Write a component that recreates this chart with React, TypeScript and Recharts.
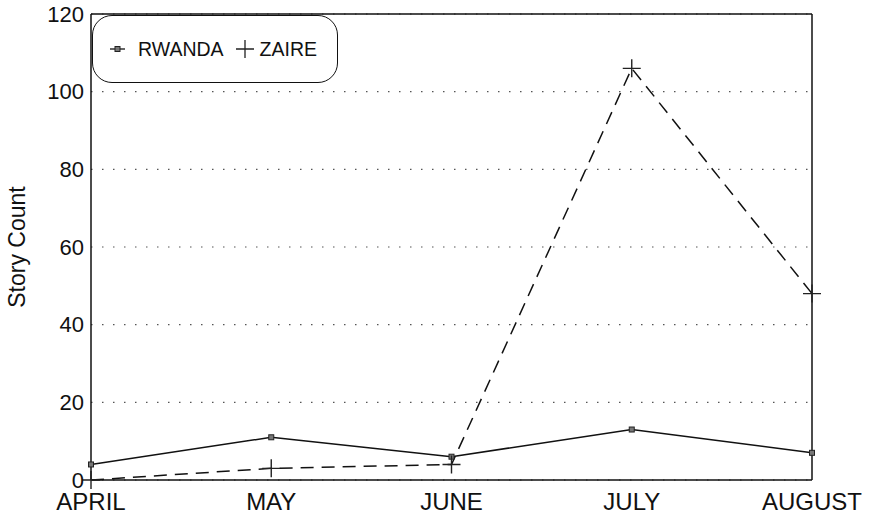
import React from 'react';
import {
  LineChart,
  Line,
  XAxis,
  YAxis,
  CartesianGrid,
  ReferenceLine,
  Legend,
} from 'recharts';

const months = ['APRIL', 'MAY', 'JUNE', 'JULY', 'AUGUST'];
const rwanda = [4, 11, 6, 13, 7];
const zaire = [0, 3, 4, 106, 48];
const yTicks = [0, 20, 40, 60, 80, 100, 120];

const data = months.map((m, i) => ({ month: m, RWANDA: rwanda[i], ZAIRE: zaire[i] }));

const FONT = '"Liberation Sans", Arial, Helvetica, sans-serif';
const INK = '#111';

const SquareDot = (props: any) => {
  const { cx, cy } = props;
  if (cx == null || cy == null) return null;
  return <rect x={cx - 2.5} y={cy - 2.5} width={5} height={5} fill="#777" stroke="#222" strokeWidth={1} />;
};

const PlusDot = (props: any) => {
  const { cx, cy } = props;
  if (cx == null || cy == null) return null;
  const h = 9;
  return (
    <path
      d={`M${cx - h},${cy}H${cx + h}M${cx},${cy - h}V${cy + h}`}
      stroke="#222"
      strokeWidth={1.4}
      fill="none"
    />
  );
};

const LegendBox = () => (
  <div
    style={{
      width: 246,
      height: 68,
      boxSizing: 'border-box',
      border: `1.5px solid ${INK}`,
      borderRadius: 20,
      display: 'flex',
      alignItems: 'center',
      fontFamily: FONT,
      fontSize: 19.5,
      color: INK,
      background: '#fff',
      paddingLeft: 17,
    }}
  >
    <svg width={15} height={10} style={{ marginRight: 13 }}>
      <line x1={0} y1={5} x2={15} y2={5} stroke={INK} strokeWidth={1.3} />
      <rect x={5} y={2.5} width={5} height={5} fill="#777" stroke="#222" strokeWidth={1} />
    </svg>
    <span>RWANDA</span>
    <svg width={20} height={20} style={{ marginLeft: 11, marginRight: 5 }}>
      <path d="M1,10H19M10,1V19" stroke="#222" strokeWidth={1.3} fill="none" />
    </svg>
    <span>ZAIRE</span>
  </div>
);

export default function App() {
  return (
    <div style={{ position: 'absolute', left: 0, top: 0, width: 880, height: 522, background: '#fff' }}>
      <LineChart
        width={880}
        height={522}
        data={data}
        margin={{ top: 14, right: 68, bottom: 0, left: 0 }}
      >
        <CartesianGrid
          horizontal
          vertical={false}
          stroke="#555"
          strokeDasharray="1.5 9.5"
          strokeWidth={1.2}
        />
        <XAxis
          dataKey="month"
          type="category"
          padding={{ left: 0, right: 0 }}
          height={42}
          tickLine={false}
          tickSize={0}
          tickMargin={13}
          axisLine={{ stroke: INK, strokeWidth: 1.5 }}
          tick={{ fontSize: 24, fontFamily: FONT, fill: INK }}
          interval={0}
        />
        <YAxis
          domain={[0, 120]}
          ticks={yTicks}
          width={91}
          tickLine={false}
          tickSize={0}
          tickMargin={7}
          axisLine={{ stroke: INK, strokeWidth: 1.5 }}
          tick={{ fontSize: 22, fontFamily: FONT, fill: INK }}
          label={{
            value: 'Story Count',
            angle: -90,
            position: 'insideLeft',
            dx: 12,
            style: { textAnchor: 'middle', fontSize: 23, fontFamily: FONT, fill: INK },
          }}
        />
        <ReferenceLine y={120} stroke={INK} strokeWidth={1.5} />
        <ReferenceLine x="AUGUST" stroke={INK} strokeWidth={1.5} />
        <Legend
          layout="horizontal"
          verticalAlign="middle"
          align="center"
          content={<LegendBox />}
          wrapperStyle={{ left: 92, top: 15, width: 246, height: 68 }}
        />
        <Line
          type="linear"
          dataKey="RWANDA"
          stroke={INK}
          strokeWidth={1.5}
          dot={<SquareDot />}
          activeDot={false}
          isAnimationActive={false}
        />
        <Line
          type="linear"
          dataKey="ZAIRE"
          stroke={INK}
          strokeWidth={1.5}
          strokeDasharray="13 8"
          dot={<PlusDot />}
          activeDot={false}
          isAnimationActive={false}
        />
      </LineChart>
    </div>
  );
}
